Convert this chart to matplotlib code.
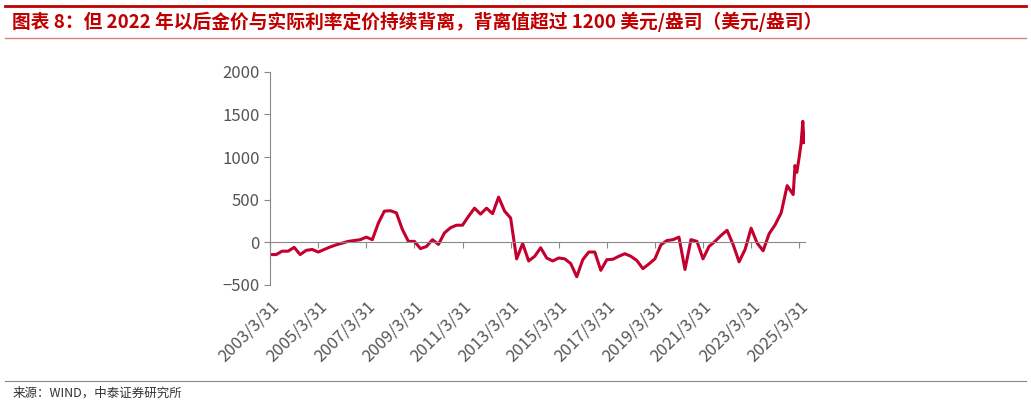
import numpy as np
import matplotlib.pyplot as plt

plt.rcParams['font.family'] = ['Noto Sans CJK SC', 'DejaVu Sans']

# quarter index from 2003/3/31, tail is monthly
x_q = list(range(88)) + [87.3, 87.6, 88.0, 88.3, 88.6, 88.8]
x_q = sorted(x_q)
values = [-145, -145, -105, -105, -60, -145, -95, -85,
          -115, -85, -55, -30, -10, 10, 20, 30,
          60, 30, 225, 365, 370, 345, 150, 10,
          10, -75, -50, 30, -25, 110, 170, 200,
          200, 305, 400, 330, 400, 335, 530, 365,
          285, -195, -15, -220, -165, -65, -185, -220,
          -185, -195, -250, -405, -205, -115, -115, -330,
          -205, -200, -165, -135, -165, -215, -310, -255,
          -195, -30, 20, 30, 60, -320, 30, 10,
          -195, -50, 10, 80, 140, -25, -230, -85,
          165, -10, -100, 100, 205, 345, 665, 560,
          900, 820, 1000, 1150, 1420, 1170]
tick_pos = list(range(0, 89, 8))
tick_labels = [f'{y}/3/31' for y in range(2003, 2026, 2)]

fig = plt.figure(figsize=(10.31, 4.04), dpi=100)
ax = fig.add_axes([0.262, 0.295, 0.519, 0.527])
ax.plot(x_q, values, color='#c4002f', lw=2.2)
ax.set_ylim(-500, 2000)
ax.set_xlim(0, 89)
ax.set_yticks([-500, 0, 500, 1000, 1500, 2000])
ax.set_xticks(tick_pos)
ax.set_xticklabels(tick_labels)
for s in ['top', 'right']:
    ax.spines[s].set_visible(False)
ax.spines['bottom'].set_position(('data', 0))
for s in ['left', 'bottom']:
    ax.spines[s].set_color('#888888')
ax.tick_params(colors='#888888', labelcolor='#555555', labelsize=12, length=4)
ax.tick_params(axis='x', pad=36)
plt.setp(ax.get_xticklabels(), rotation=45, ha='right', rotation_mode='anchor')

fig.add_artist(plt.Line2D([0.005, 0.995], [0.985, 0.985], color='#c00000', lw=2))
fig.add_artist(plt.Line2D([0.005, 0.995], [0.905, 0.905], color='#d98080', lw=1))
fig.text(0.012, 0.945, '图表 8：但 2022 年以后金价与实际利率定价持续背离，背离值超过 1200 美元/盎司（美元/盎司）',
         color='#c00000', fontsize=13.5, fontweight='bold', style='italic', va='center')
fig.add_artist(plt.Line2D([0.005, 0.995], [0.058, 0.058], color='#888888', lw=0.8))
fig.text(0.012, 0.028, '来源：WIND，中泰证券研究所', fontsize=9, va='center', color='#333333')

fig.savefig('out.png', dpi=100)
